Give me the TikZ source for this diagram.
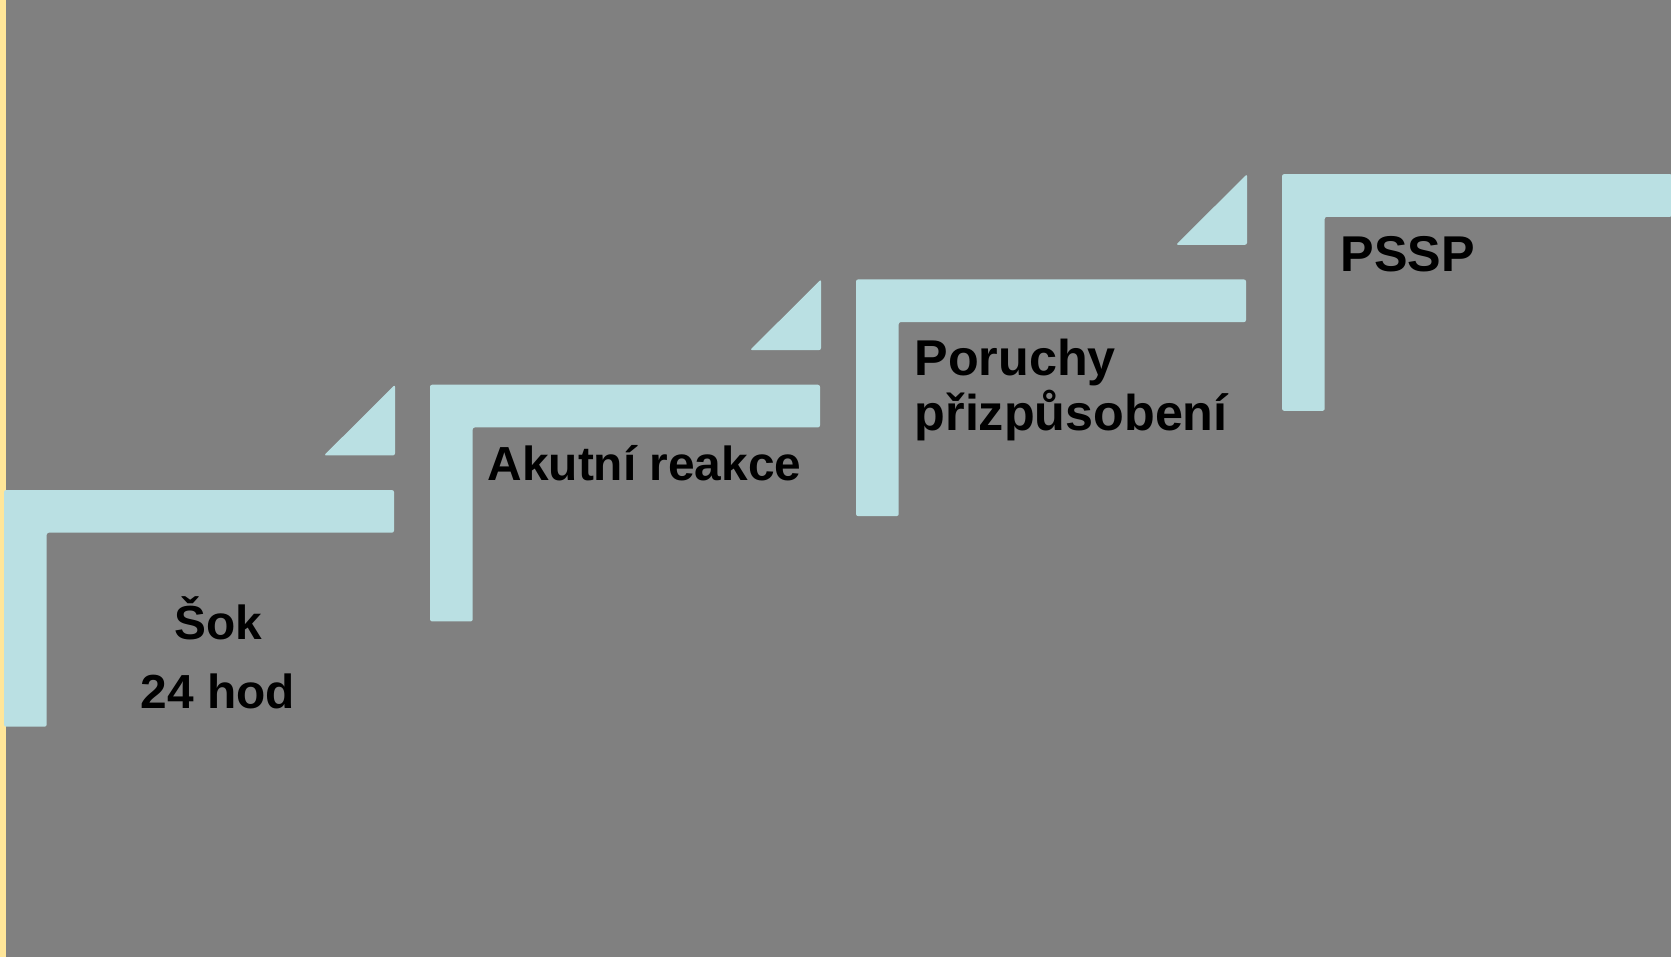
\documentclass[tikz,border=0pt]{standalone}
\usepackage{fontspec}
\setmainfont{Liberation Sans}
\usetikzlibrary{positioning}
\definecolor{stepcolor}{RGB}{186,224,227}
\definecolor{backcolor}{RGB}{128,128,128}
\definecolor{edgecolor}{RGB}{255,230,153}
\tikzset{
  steptext/.style={anchor=base west, inner sep=0pt, font=\bfseries\fontsize{14.3}{14.3}\selectfont, align=left},
}

\begin{document}
\begin{tikzpicture}[x=0.01cm, y=-0.01cm]
            % Background and left strip
            \fill[backcolor] (0,0) rectangle (1671,957);
            \fill[edgecolor] (0,0) rectangle (6,957);
            \useasboundingbox (0,0) rectangle (1671,957);

            % Draw the steps
            \foreach \i in {0,...,3} {
                \pgfmathsetmacro{\sx}{4+426*\i}
                \pgfmathsetmacro{\sy}{490-105.3*\i}
                \fill[stepcolor, rounded corners=0.6pt] (\sx,\sy) -- ++(390,0) -- ++(0,42.7) -- ++(-347.3,0) -- ++(0,194) -- ++(-42.7,0) -- cycle;
            }

            % Draw the small triangles
            \foreach \i in {1,...,3} {
                \pgfmathsetmacro{\sx}{4+426*\i}
                \pgfmathsetmacro{\sy}{490-105.3*\i}
                \fill[stepcolor, rounded corners=0.6pt] (\sx-35,\sy) -- (\sx-35,\sy+70.7) -- (\sx-106,\sy+70.7) -- cycle;
            }

            % Labels (base anchor sits on the last line)
            \node[steptext, anchor=base, align=center, font=\bfseries\fontsize{13.6}{19.6}\selectfont] (sok) at (218,708.3) {Šok\\24 hod};
            \node[steptext, font=\bfseries\fontsize{13.6}{13.6}\selectfont] (akutni) at (487,480) {Akutní reakce};
            \node[steptext] (poruchy) at (914,430) {Poruchy\\přizpůsobení};
            \node[steptext] (pssp) at (1340,271) {PSSP};
\end{tikzpicture}
\end{document}
